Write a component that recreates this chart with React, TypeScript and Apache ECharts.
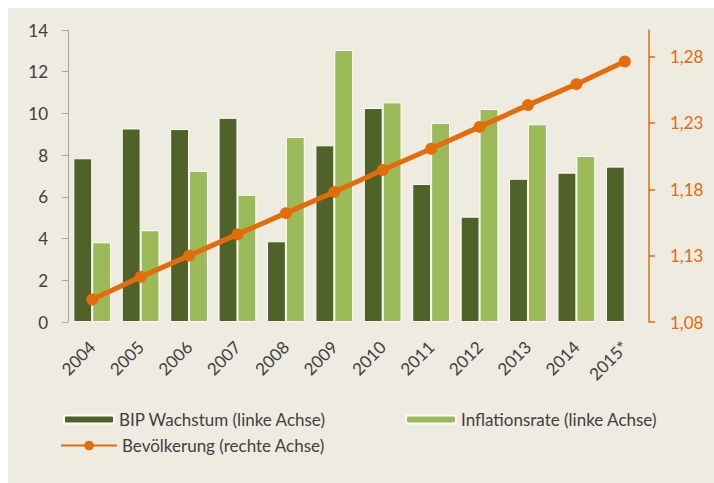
import React, { useEffect, useRef } from "react";
import * as echarts from "echarts";

const years = ["2004", "2005", "2006", "2007", "2008", "2009", "2010", "2011", "2012", "2013", "2014", "2015*"];
const bipWachstum = [7.85, 9.28, 9.25, 9.79, 3.87, 8.47, 10.26, 6.62, 5.05, 6.87, 7.16, 7.45];
const inflationsrate = [3.82, 4.4, 7.25, 6.1, 8.87, 13.04, 10.53, 9.55, 10.21, 9.48, 7.96, null];
const bevoelkerung = [1.097, 1.114, 1.13, 1.146, 1.162, 1.178, 1.1945, 1.2105, 1.227, 1.2434, 1.2592, 1.2763];
const rightTicks = [1.08, 1.13, 1.18, 1.23, 1.28];

const FONT = "Lato";
const DARK = "#4F6228";
const LIGHT = "#9BBB59";
const ORANGE = "#E46C0A";
const TEXT = "#404040";

export default function App() {
  const ref = useRef<HTMLDivElement>(null);
  useEffect(() => {
    document.body.style.margin = "0";
    document.body.style.overflow = "hidden";
    const chart = echarts.init(ref.current!, null, { renderer: "svg" });
    const legendText = { color: TEXT, fontSize: 17, fontFamily: FONT };
    chart.setOption({
      animation: false,
      backgroundColor: "#ffffff",
      textStyle: { fontFamily: FONT },
      graphic: [
        { type: "rect", z: -10, silent: true, shape: { x: 8, y: 8, width: 706, height: 475 }, style: { fill: "#EEEBE0" } },
      ],
      grid: { left: 68, right: 65, top: 30, bottom: 161 },
      legend: [
        {
          data: ["BIP Wachstum (linke Achse)"],
          left: 63, top: 411, padding: 0, itemWidth: 50, itemHeight: 8,
          textStyle: legendText,
        },
        {
          data: ["Inflationsrate (linke Achse)"],
          left: 405, top: 411, padding: 0, itemWidth: 50, itemHeight: 8,
          textStyle: legendText,
        },
        {
          data: ["Bevölkerung (rechte Achse)"],
          left: 60, top: 437, padding: 0, itemWidth: 56, itemHeight: 12,
          textStyle: legendText,
        },
      ],
      xAxis: {
        type: "category",
        data: years,
        axisLine: { show: false },
        axisTick: { show: false },
        axisLabel: { rotate: 45, margin: 22, color: TEXT, fontSize: 17, fontFamily: FONT, interval: 0 },
      },
      yAxis: [
        {
          type: "value",
          min: 0,
          max: 14,
          interval: 2,
          splitLine: { show: false },
          axisLine: { show: true, lineStyle: { color: "#A6A6A6", width: 1 } },
          axisTick: { show: true, length: 6, lineStyle: { color: "#A6A6A6" } },
          axisLabel: { margin: 20, color: TEXT, fontSize: 17, fontFamily: FONT },
        },
        {
          type: "value",
          min: 1.08,
          max: 1.3,
          interval: 0.05,
          position: "right",
          splitLine: { show: false },
          axisLine: { show: true, lineStyle: { color: ORANGE, width: 1.5 } },
          axisTick: { show: true, length: 6, customValues: rightTicks, lineStyle: { color: ORANGE, width: 1.5 } },
          axisLabel: {
            margin: 21,
            color: ORANGE,
            fontSize: 17,
            fontFamily: FONT,
            customValues: rightTicks,
            formatter: (v: number) => v.toFixed(2).replace(".", ","),
          },
        },
      ],
      series: [
        {
          name: "BIP Wachstum (linke Achse)",
          type: "bar",
          data: bipWachstum,
          barGap: "0%",
          barCategoryGap: "22%",
          itemStyle: { color: DARK, borderColor: "#ffffff", borderWidth: 1 },
        },
        {
          name: "Inflationsrate (linke Achse)",
          type: "bar",
          data: inflationsrate,
          itemStyle: { color: LIGHT, borderColor: "#ffffff", borderWidth: 1 },
        },
        {
          name: "Bevölkerung (rechte Achse)",
          type: "line",
          yAxisIndex: 1,
          data: bevoelkerung,
          symbol: "circle",
          symbolSize: 12,
          z: 5,
          lineStyle: { color: ORANGE, width: 5 },
          itemStyle: { color: ORANGE },
        },
      ],
    });
    return () => chart.dispose();
  }, []);
  return <div ref={ref} style={{ width: 714, height: 483 }} />;
}
